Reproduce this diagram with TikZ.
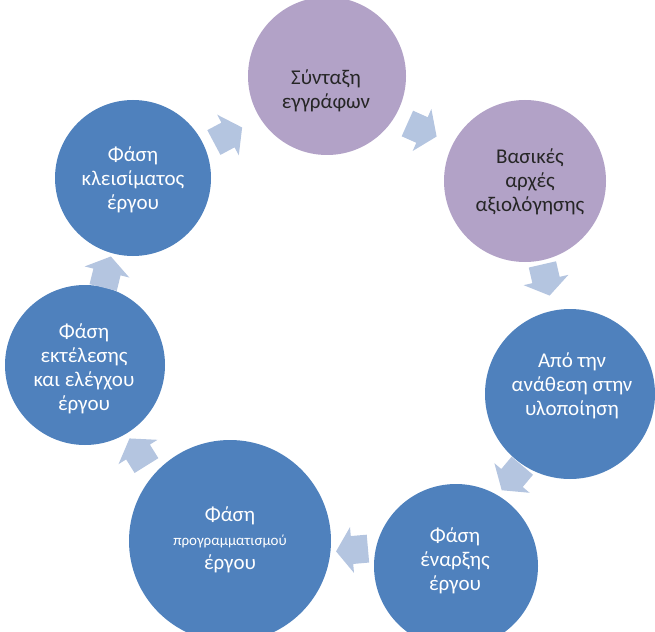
\documentclass[tikz,border=0pt]{standalone}
\usepackage{fontspec}
\setmainfont{Carlito}
\definecolor{bblue}{RGB}{79,129,189}
\definecolor{bpurple}{RGB}{178,162,199}
\definecolor{barrow}{RGB}{180,197,224}
\begin{document}
\begin{tikzpicture}[x=1pt,y=-1pt,
  bubble/.style={circle,inner sep=0pt,draw=none},
  bluebub/.style={bubble,fill=bblue},
  purpbub/.style={bubble,fill=bpurple},
  txt/.style={align=center,inner sep=0pt,font=\fontsize{21}{24}\selectfont},
  wtxt/.style={txt,text=white},
  ktxt/.style={txt,text=black!85},
  blockarrow/.style={fill=barrow,draw=none}]
\useasboundingbox (0,0) rectangle (655,631);
\clip (0,0) rectangle (655,631);
% circles
\node[purpbub,minimum size=158pt] (c1) at (327,76) {};
\node[purpbub,minimum size=162pt] (c2) at (525,181) {};
\node[bluebub,minimum size=170pt] (c3) at (570,394) {};
\node[bluebub,minimum size=164pt] (c4) at (456,566) {};
\node[bluebub,minimum size=202pt] (c5) at (230,541) {};
\node[bluebub,minimum size=160pt] (c6) at (85,365) {};
\node[bluebub,minimum size=156pt] (c7) at (133,178) {};
% texts
\node[ktxt] (t1) at (326,91) {Σύνταξη\\εγγράφων};
\node[ktxt] (t2) at (530,182) {Βασικές\\αρχές\\αξιολόγησης};
\node[wtxt] (t3) at (572,386) {Από την\\ανάθεση στην\\υλοποίηση};
\node[wtxt] (t4) at (455,561) {Φάση\\έναρξης\\έργου};
\node[wtxt] (t5) at (230,540) {Φάση\\{\fontsize{15}{24}\selectfont προγραμματισμού}\\έργου};
\node[wtxt] (t6) at (84,369) {Φάση\\εκτέλεσης\\και ελέγχου\\έργου};
\node[wtxt] (t7) at (133,180) {Φάση\\κλεισίματος\\έργου};
% block arrows
\foreach \px/\py/\ang in {228/135/28, 422/130/-24, 546/280/-77, 512/478/-130, 352/550/-175, 138/452/122, 107/272/76}{
  \fill[blockarrow,shift={(\px,\py)},rotate=\ang]
    (-16,-14) -- (0,-14) -- (0,-23) -- (16,0) -- (0,23) -- (0,14) -- (-16,14) -- cycle;
}
\end{tikzpicture}
\end{document}
